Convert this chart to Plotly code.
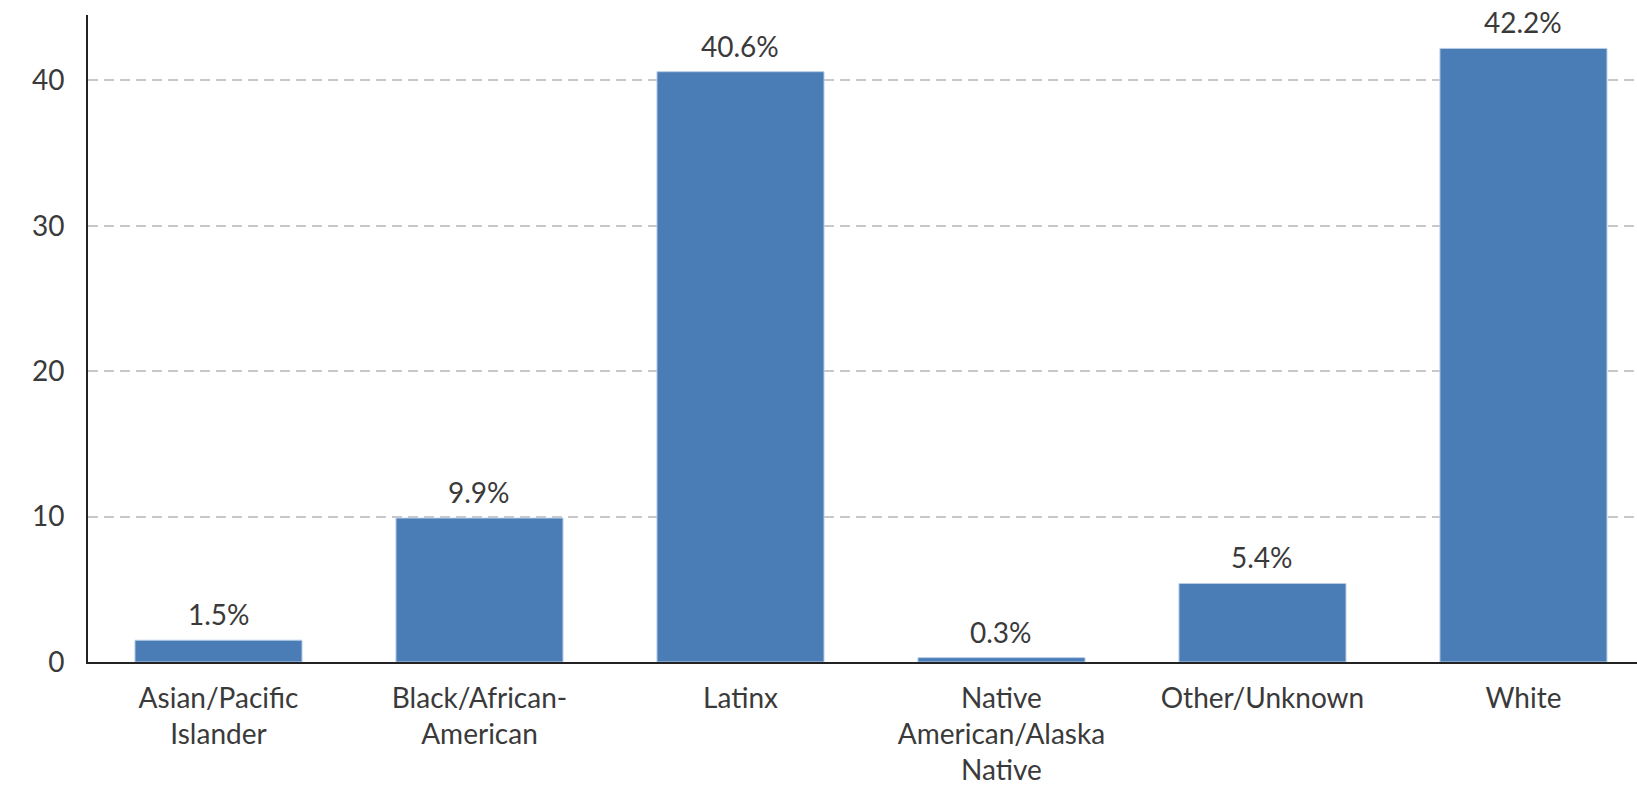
import plotly.graph_objects as go

categories = ["Asian/Pacific<br>Islander", "Black/African-<br>American", "Latinx",
              "Native<br>American/Alaska<br>Native", "Other/Unknown", "White"]
values = [1.5, 9.9, 40.6, 0.3, 5.4, 42.2]
y_ticks = [0, 10, 20, 30, 40]

FONT = "Lato"
FS = 28
TXT = "#3a3a3a"

fig = go.Figure(go.Bar(
    x=categories, y=values,
    marker=dict(color="#4a7cb6", line=dict(color="#b9cde6", width=1)),
    width=0.64,
    hoverinfo="x+y",
))

for c, v in zip(categories, values):
    fig.add_annotation(x=c, y=v, text=f"{v}%", showarrow=False,
                       yanchor="bottom", xanchor="center", yshift=7,
                       font=dict(family=FONT, size=FS, color=TXT))

fig.update_layout(
    width=1637, height=788,
    margin=dict(l=88, r=0, t=15, b=126),
    plot_bgcolor="white", paper_bgcolor="white",
    showlegend=False,
    font=dict(family=FONT, size=FS, color=TXT),
)
fig.update_xaxes(
    range=[-0.5, 5.435], automargin=False,
    showline=True, linecolor="#222222", linewidth=2,
    showgrid=False, ticks="", ticklabelstandoff=10,
    tickfont=dict(family=FONT, size=FS, color=TXT),
)
fig.update_yaxes(
    range=[0, 44.5], automargin=False,
    tickvals=y_ticks,
    showline=True, linecolor="#222222", linewidth=2,
    showgrid=True, gridcolor="#c8c8c8", gridwidth=1.5, griddash="10px,6px",
    zeroline=False, ticks="", ticklabelstandoff=16,
    tickfont=dict(family=FONT, size=FS, color=TXT),
)

fig.write_html("out.html", config={"displayModeBar": False},
               post_script="document.body.style.margin='0';document.body.style.overflow='hidden';")
